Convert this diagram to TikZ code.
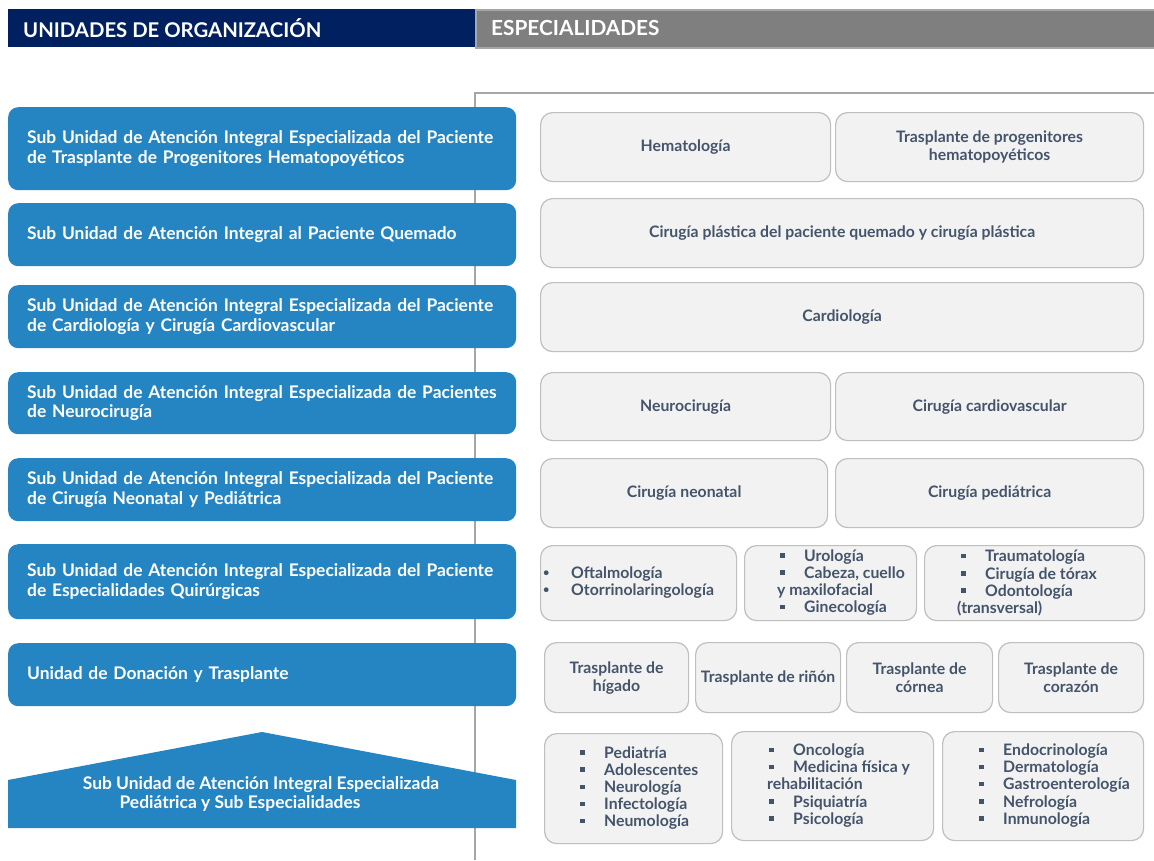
\documentclass[tikz,border=0pt]{standalone}
\usepackage{fontspec}
\setmainfont{Lato}
\definecolor{navy}{HTML}{002060}
\definecolor{hdrgray}{HTML}{7F7F7F}
\definecolor{linegray}{HTML}{A6A6A6}
\definecolor{blu}{HTML}{2585C3}
\definecolor{specfill}{HTML}{F2F2F2}
\definecolor{bord}{HTML}{BFBFBF}
\definecolor{slate}{HTML}{44546A}
\newcommand{\sqb}{\rule[.22em]{.28em}{.28em}}
\newcommand{\itm}[1]{\makebox[24pt][l]{\sqb}#1}
\newcommand{\rdb}{\raisebox{.12em}{\fontsize{11}{11}\selectfont\textbullet}}
\tikzset{
  x=1pt, y=-1pt,
  hdr/.style={anchor=north west, inner sep=0pt, minimum height=38pt, text=white},
  hdrtxt/.style={anchor=west, text=white, inner sep=0pt,
    font=\bfseries\fontsize{20.3}{22}\selectfont},
  unit/.style={fill=blu, rounded corners=10pt, text=white, anchor=north west,
    font=\bfseries\fontsize{17.4}{19.5}\selectfont, align=left, inner xsep=19pt,
    inner ysep=0pt, text width=470pt},
  spec/.style={draw=bord, fill=specfill, line width=1.2pt, rounded corners=12pt,
    text=slate, font=\bfseries\fontsize{15.8}{18}\selectfont, align=center,
    anchor=north west, inner sep=0pt},
  listtxt/.style={text=slate, font=\bfseries\fontsize{15.8}{17.2}\selectfont,
    align=left, anchor=west, inner sep=0pt},
}
\begin{document}
\begin{tikzpicture}
\useasboundingbox (0,0) rectangle (1154,860);
\fill[white] (0,0) rectangle (1154,860);
% header
\node[hdr, fill=navy, minimum width=467pt] (h1) at (8,9) {};
\node[hdrtxt] (h1t) at (23,28) {UNIDADES DE ORGANIZACIÓN};
\node[hdr, fill=hdrgray, draw=linegray, line width=1.5pt, minimum width=679pt] (h2) at (475,9) {};
\node[hdrtxt, font=\bfseries\fontsize{20.8}{22}\selectfont] (h2t) at (491,28) {ESPECIALIDADES};
% bracket line
\draw[linegray, line width=1.5pt] (1154,93) -- (475,93) -- (475,860);
% units
\node[unit, minimum height=83pt] (u1) at (8,107) {Sub Unidad de Atención Integral Especializada del Paciente\\de Trasplante de Progenitores Hematopoyéticos};
\node[unit, minimum height=63pt] (u2) at (8,203) {Sub Unidad de Atención Integral al Paciente Quemado};
\node[unit, minimum height=63pt] (u3) at (8,285) {Sub Unidad de Atención Integral Especializada del Paciente\\de Cardiología y Cirugía Cardiovascular};
\node[unit, minimum height=62pt] (u4) at (8,372) {Sub Unidad de Atención Integral Especializada de Pacientes\\de Neurocirugía};
\node[unit, minimum height=63pt] (u5) at (8,458) {Sub Unidad de Atención Integral Especializada del Paciente\\de Cirugía Neonatal y Pediátrica};
\node[unit, minimum height=75pt] (u6) at (8,544) {Sub Unidad de Atención Integral Especializada del Paciente\\de Especialidades Quirúrgicas};
\node[unit, minimum height=63pt] (u7) at (8,643) {Unidad de Donación y Trasplante};
\fill[blu] (8,780) -- (262,732) -- (516,780) -- (516,828) -- (8,828) -- cycle;
\node[text=white, font=\bfseries\fontsize{17.4}{19.5}\selectfont, align=center, inner sep=0pt] (u8) at (261,794) {Sub Unidad de Atención Integral Especializada\\Pediátrica y Sub Especialidades\hspace*{42pt}};
% specialties
\node[spec, minimum width=290pt, minimum height=69pt] (s1a) at (540,112) {Hematología};
\node[spec, minimum width=308pt, minimum height=69pt] (s1b) at (835,112) {Trasplante de progenitores\\hematopoyéticos};
\node[spec, minimum width=603pt, minimum height=69pt] (s2) at (540,198) {Cirugía plástica del paciente quemado y cirugía plástica};
\node[spec, minimum width=603pt, minimum height=69pt] (s3) at (540,282) {Cardiología};
\node[spec, minimum width=290pt, minimum height=68pt] (s4a) at (540,372) {Neurocirugía};
\node[spec, minimum width=308pt, minimum height=68pt] (s4b) at (835,372) {Cirugía cardiovascular};
\node[spec, minimum width=287pt, minimum height=69pt] (s5a) at (540,458) {Cirugía neonatal};
\node[spec, minimum width=308pt, minimum height=69pt] (s5b) at (835,458) {Cirugía pediátrica};
% row 6
\node[spec, minimum width=196pt, minimum height=75pt] (s6a) at (540,545) {};
\node[spec, minimum width=172pt, minimum height=75pt] (s6b) at (744,545) {};
\node[spec, minimum width=220pt, minimum height=75pt] (s6c) at (924,545) {};
\node[listtxt] (l6a) at (543,582.5) {\makebox[28pt][l]{\rdb}Oftalmología\\\makebox[28pt][l]{\rdb}Otorrinolaringología};
\node[listtxt] (l6b) at (777,582.5) {\hspace*{3pt}\itm{Urología}\\\hspace*{3pt}\itm{Cabeza, cuello}\\y maxilofacial\\\hspace*{3pt}\itm{Ginecología}};
\node[listtxt] (l6c) at (957,583) {\hspace*{4pt}\itm{Traumatología}\\\hspace*{4pt}\itm{Cirugía de tórax}\\\hspace*{4pt}\itm{Odontología}\\(transversal)};
% row 7
\node[spec, minimum width=144pt, minimum height=70pt] (s7a) at (544,642) {Trasplante de\\hígado};
\node[spec, minimum width=145pt, minimum height=70pt] (s7b) at (695,642) {Trasplante de riñón};
\node[spec, minimum width=146pt, minimum height=70pt] (s7c) at (846,642) {Trasplante de\\córnea};
\node[spec, minimum width=145pt, minimum height=70pt] (s7d) at (998,642) {Trasplante de\\corazón};
% row 8
\node[spec, minimum width=178pt, minimum height=110pt] (s8a) at (544,733) {};
\node[spec, minimum width=202pt, minimum height=109pt] (s8b) at (731,731) {};
\node[spec, minimum width=201pt, minimum height=109pt] (s8c) at (942,731) {};
\node[listtxt] (l8a) at (580,788) {\itm{Pediatría}\\\itm{Adolescentes}\\\itm{Neurología}\\\itm{Infectología}\\\itm{Neumología}};
\node[listtxt] (l8b) at (767,785.5) {\hspace*{2pt}\itm{Oncología}\\\hspace*{2pt}\itm{Medicina física y}\\rehabilitación\\\hspace*{2pt}\itm{Psiquiatría}\\\hspace*{2pt}\itm{Psicología}};
\node[listtxt] (l8c) at (979,785.5) {\itm{Endocrinología}\\\itm{Dermatología}\\\itm{Gastroenterología}\\\itm{Nefrología}\\\itm{Inmunología}};
\end{tikzpicture}
\end{document}
